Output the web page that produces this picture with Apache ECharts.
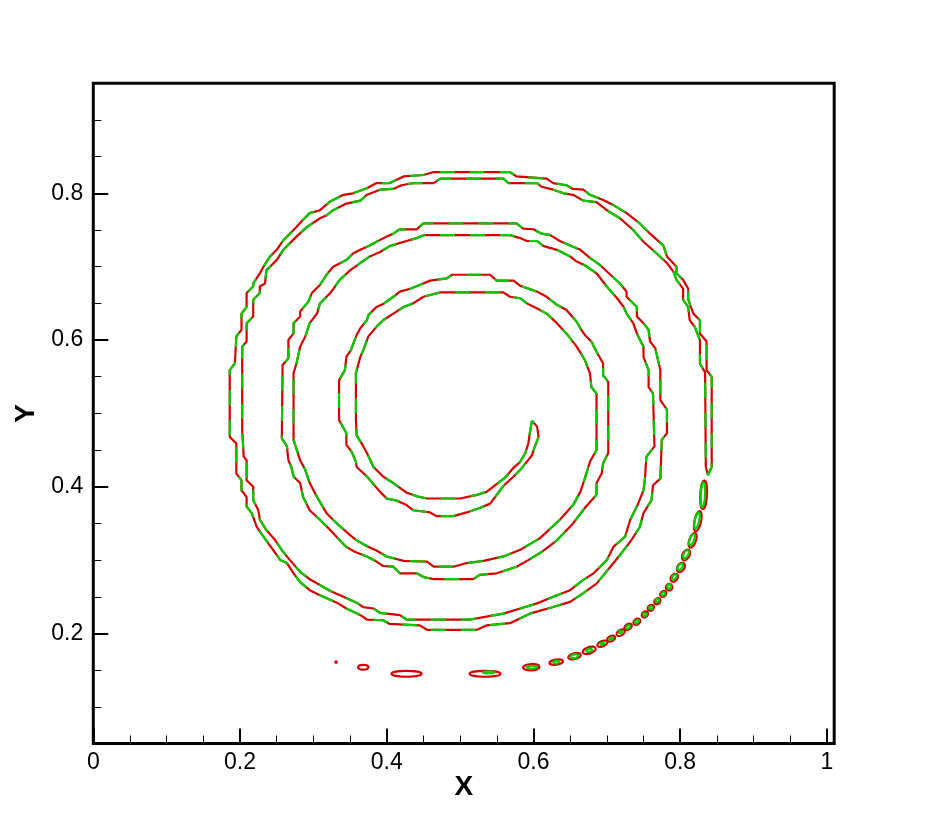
<!DOCTYPE html>
<html><head><meta charset="utf-8">
<script src="https://cdn.jsdelivr.net/npm/echarts@6/dist/echarts.min.js"></script>
<style>html,body{margin:0;padding:0;background:#fff}#c{width:929px;height:826px}</style>
</head><body><div id="c"></div>
<script>
const xTickValues = [0, 0.2, 0.4, 0.6, 0.8, 1];
const xMinorTicks = [0.05,0.1,0.15,0.25,0.3,0.35,0.45,0.5,0.55,0.65,0.7,0.75,0.85,0.9,0.95];
const yTickValues = [0.2, 0.4, 0.6, 0.8];
const yMinorTicks = [0.1,0.15,0.25,0.3,0.35,0.45,0.5,0.55,0.65,0.7,0.75,0.85,0.9];

// inner side of the spiral filament, from the inner tip to the outer tail
const innerEdge = [[0.598,0.490],[0.595,0.473],[0.593,0.459],[0.589,0.446],[0.582,0.434],[0.572,0.425],[0.561,0.412],[0.536,0.393],[0.523,0.389],[0.500,0.384],[0.455,0.384],[0.441,0.387],[0.427,0.392],[0.409,0.405],[0.395,0.414],[0.382,0.427],[0.373,0.446],[0.367,0.457],[0.359,0.470],[0.358,0.491],[0.358,0.555],[0.364,0.577],[0.368,0.586],[0.375,0.605],[0.386,0.618],[0.395,0.627],[0.409,0.636],[0.423,0.645],[0.436,0.650],[0.450,0.659],[0.473,0.665],[0.559,0.665],[0.568,0.659],[0.582,0.657],[0.591,0.650],[0.605,0.643],[0.618,0.636],[0.632,0.623],[0.645,0.609],[0.659,0.591],[0.670,0.573],[0.677,0.555],[0.679,0.536],[0.686,0.527],[0.686,0.450],[0.677,0.434],[0.670,0.411],[0.664,0.393],[0.654,0.375],[0.636,0.355],[0.609,0.330],[0.582,0.314],[0.559,0.305],[0.532,0.299],[0.509,0.296],[0.491,0.291],[0.464,0.291],[0.455,0.298],[0.423,0.299],[0.400,0.305],[0.386,0.313],[0.373,0.319],[0.359,0.327],[0.350,0.334],[0.332,0.350],[0.318,0.364],[0.305,0.386],[0.295,0.405],[0.289,0.423],[0.282,0.436],[0.273,0.464],[0.273,0.555],[0.277,0.568],[0.282,0.591],[0.289,0.605],[0.295,0.623],[0.305,0.636],[0.309,0.650],[0.323,0.664],[0.336,0.682],[0.350,0.695],[0.364,0.705],[0.377,0.714],[0.391,0.720],[0.404,0.728],[0.427,0.735],[0.441,0.739],[0.450,0.743],[0.568,0.743],[0.582,0.739],[0.591,0.735],[0.605,0.735],[0.614,0.728],[0.632,0.723],[0.650,0.714],[0.659,0.707],[0.670,0.702],[0.686,0.691],[0.700,0.673],[0.714,0.657],[0.723,0.645],[0.727,0.636],[0.736,0.623],[0.741,0.609],[0.750,0.591],[0.750,0.577],[0.757,0.559],[0.757,0.536],[0.763,0.527],[0.765,0.455],[0.754,0.441],[0.752,0.411],[0.750,0.395],[0.741,0.373],[0.732,0.355],[0.725,0.332],[0.709,0.318],[0.700,0.300],[0.682,0.282],[0.668,0.273],[0.650,0.259],[0.627,0.250],[0.605,0.241],[0.582,0.234],[0.559,0.227],[0.536,0.223],[0.514,0.219],[0.427,0.219],[0.418,0.225],[0.391,0.228],[0.382,0.234],[0.368,0.236],[0.359,0.242],[0.341,0.250],[0.323,0.258],[0.309,0.266],[0.295,0.274],[0.282,0.284],[0.268,0.300],[0.259,0.311],[0.248,0.327],[0.236,0.341],[0.227,0.355],[0.225,0.368],[0.218,0.382],[0.218,0.400],[0.209,0.409],[0.209,0.436],[0.205,0.441],[0.203,0.477],[0.203,0.591],[0.209,0.598],[0.209,0.623],[0.218,0.632],[0.218,0.655],[0.227,0.664],[0.227,0.673],[0.234,0.677],[0.236,0.695],[0.250,0.709],[0.259,0.723],[0.277,0.741],[0.291,0.754],[0.309,0.766],[0.318,0.770],[0.327,0.777],[0.345,0.786],[0.364,0.790],[0.373,0.798],[0.391,0.805],[0.409,0.806],[0.420,0.811],[0.436,0.814],[0.464,0.814],[0.473,0.820],[0.559,0.820],[0.566,0.814],[0.605,0.814],[0.611,0.809],[0.627,0.805],[0.641,0.800],[0.654,0.798],[0.668,0.790],[0.686,0.788],[0.700,0.777],[0.718,0.766],[0.736,0.750],[0.750,0.734],[0.768,0.718],[0.782,0.705],[0.791,0.693],[0.795,0.682],[0.804,0.670],[0.804,0.655],[0.811,0.645],[0.813,0.627],[0.820,0.618],[0.827,0.600],[0.827,0.568],[0.834,0.556],[0.835,0.427],[0.838,0.416]];

// outer side of the filament, from the inner tip to the outer tail
const outerEdge = [[0.598,0.490],[0.605,0.482],[0.607,0.468],[0.602,0.455],[0.598,0.443],[0.591,0.434],[0.582,0.423],[0.573,0.414],[0.559,0.401],[0.541,0.377],[0.527,0.371],[0.509,0.365],[0.491,0.360],[0.468,0.360],[0.459,0.365],[0.436,0.368],[0.427,0.375],[0.414,0.381],[0.400,0.384],[0.391,0.393],[0.373,0.414],[0.359,0.427],[0.358,0.434],[0.352,0.448],[0.345,0.457],[0.345,0.473],[0.335,0.491],[0.335,0.545],[0.343,0.559],[0.345,0.577],[0.351,0.586],[0.359,0.607],[0.364,0.616],[0.373,0.627],[0.375,0.634],[0.386,0.645],[0.395,0.649],[0.409,0.659],[0.418,0.666],[0.432,0.670],[0.445,0.675],[0.459,0.681],[0.482,0.684],[0.489,0.689],[0.541,0.689],[0.550,0.681],[0.573,0.681],[0.582,0.674],[0.605,0.666],[0.618,0.659],[0.632,0.648],[0.645,0.641],[0.659,0.625],[0.664,0.616],[0.670,0.607],[0.679,0.598],[0.686,0.584],[0.695,0.568],[0.695,0.552],[0.702,0.543],[0.702,0.446],[0.695,0.432],[0.693,0.418],[0.686,0.405],[0.686,0.389],[0.670,0.371],[0.654,0.350],[0.632,0.327],[0.611,0.311],[0.593,0.300],[0.577,0.291],[0.550,0.282],[0.527,0.280],[0.518,0.274],[0.464,0.274],[0.450,0.277],[0.441,0.282],[0.418,0.282],[0.409,0.291],[0.395,0.292],[0.386,0.298],[0.373,0.305],[0.357,0.311],[0.345,0.318],[0.336,0.327],[0.323,0.341],[0.309,0.355],[0.295,0.368],[0.286,0.386],[0.282,0.405],[0.273,0.414],[0.270,0.427],[0.266,0.436],[0.264,0.455],[0.257,0.466],[0.258,0.566],[0.266,0.575],[0.266,0.600],[0.273,0.609],[0.273,0.623],[0.282,0.632],[0.282,0.639],[0.293,0.652],[0.298,0.664],[0.309,0.675],[0.318,0.689],[0.327,0.700],[0.345,0.709],[0.354,0.718],[0.364,0.723],[0.377,0.729],[0.386,0.734],[0.400,0.741],[0.409,0.745],[0.418,0.751],[0.441,0.751],[0.450,0.759],[0.577,0.759],[0.586,0.752],[0.600,0.751],[0.611,0.745],[0.623,0.743],[0.636,0.735],[0.650,0.729],[0.664,0.723],[0.677,0.712],[0.691,0.702],[0.705,0.689],[0.718,0.677],[0.727,0.666],[0.727,0.659],[0.741,0.645],[0.741,0.632],[0.750,0.623],[0.757,0.614],[0.759,0.598],[0.766,0.589],[0.773,0.559],[0.773,0.518],[0.782,0.505],[0.782,0.473],[0.775,0.464],[0.773,0.411],[0.763,0.402],[0.761,0.382],[0.750,0.364],[0.745,0.345],[0.732,0.325],[0.718,0.307],[0.705,0.291],[0.686,0.268],[0.668,0.255],[0.650,0.243],[0.627,0.236],[0.595,0.227],[0.568,0.214],[0.536,0.211],[0.523,0.205],[0.455,0.205],[0.445,0.211],[0.404,0.213],[0.395,0.218],[0.373,0.219],[0.364,0.225],[0.345,0.234],[0.332,0.242],[0.323,0.246],[0.309,0.252],[0.295,0.259],[0.282,0.270],[0.273,0.282],[0.264,0.296],[0.255,0.300],[0.245,0.314],[0.232,0.332],[0.223,0.345],[0.216,0.364],[0.209,0.373],[0.209,0.386],[0.202,0.395],[0.202,0.409],[0.195,0.418],[0.195,0.459],[0.186,0.468],[0.186,0.559],[0.193,0.568],[0.195,0.605],[0.202,0.614],[0.202,0.636],[0.209,0.645],[0.209,0.664],[0.218,0.673],[0.218,0.677],[0.227,0.691],[0.232,0.700],[0.241,0.714],[0.250,0.723],[0.259,0.736],[0.273,0.750],[0.286,0.764],[0.295,0.773],[0.309,0.777],[0.323,0.789],[0.341,0.798],[0.354,0.800],[0.373,0.807],[0.386,0.814],[0.404,0.814],[0.423,0.823],[0.450,0.825],[0.464,0.829],[0.568,0.829],[0.577,0.823],[0.618,0.820],[0.627,0.814],[0.645,0.811],[0.654,0.806],[0.668,0.805],[0.677,0.798],[0.695,0.791],[0.709,0.784],[0.727,0.773],[0.745,0.759],[0.759,0.745],[0.777,0.729],[0.782,0.714],[0.795,0.700],[0.795,0.691],[0.804,0.682],[0.811,0.670],[0.811,0.655],[0.818,0.636],[0.827,0.627],[0.827,0.609],[0.836,0.598],[0.836,0.559],[0.841,0.552],[0.843,0.550],[0.843,0.427],[0.838,0.416]];

// droplets of the broken-up tail: [x, y, semi-axis x, semi-axis y, tilt in degrees]
const redDrops = [[0.832,0.389,0.0045,0.0195,-3],[0.824,0.353,0.0045,0.014,-12],[0.817,0.327,0.0045,0.0105,-20],[0.808,0.307,0.0047,0.008,-28],[0.801,0.290,0.0047,0.007,-35],[0.792,0.276,0.0044,0.006,-40],[0.785,0.263,0.0045,0.0045,0],[0.777,0.254,0.0047,0.0037,45],[0.769,0.244,0.0047,0.0037,45],[0.760,0.235,0.0047,0.0037,42],[0.752,0.226,0.0047,0.0037,40],[0.741,0.216,0.0052,0.0037,38],[0.729,0.209,0.0057,0.0037,34],[0.719,0.201,0.0062,0.0037,30],[0.706,0.193,0.0057,0.0037,26],[0.694,0.186,0.0072,0.0037,22],[0.676,0.177,0.0092,0.0044,18],[0.656,0.169,0.0088,0.004,14],[0.631,0.161,0.0092,0.0035,8],[0.597,0.154,0.0112,0.0044,3],[0.534,0.145,0.021,0.004,0],[0.427,0.145,0.0205,0.004,0],[0.368,0.154,0.007,0.0032,0],[0.331,0.161,0.001,0.001,0]];
const greenDrops = [[0.831,0.389,0.003,0.017,-3],[0.823,0.354,0.003,0.011,-12],[0.816,0.328,0.003,0.008,-20],[0.808,0.308,0.003,0.006,-28],[0.800,0.291,0.0028,0.005,-35],[0.792,0.277,0.0025,0.004,-40],[0.785,0.264,0.0025,0.003,0],[0.777,0.254,0.0025,0.0025,0],[0.769,0.245,0.0025,0.0022,0],[0.760,0.235,0.0025,0.002,0],[0.752,0.226,0.0025,0.002,0],[0.741,0.216,0.003,0.002,30],[0.729,0.209,0.003,0.002,30],[0.719,0.202,0.0025,0.0015,25],[0.706,0.193,0.0025,0.0015,25],[0.694,0.186,0.003,0.0015,20],[0.676,0.177,0.004,0.002,15],[0.656,0.169,0.005,0.0025,10],[0.631,0.161,0.004,0.002,5],[0.598,0.154,0.007,0.002,0],[0.539,0.147,0.008,0.0015,0]];

const RED = '#d40000', GREEN = '#00cc00';
const FONT = "'Liberation Sans', Arial, sans-serif";
const contour = innerEdge.concat(outerEdge.slice().reverse().slice(1));

function dropSeries(data, color) {
  return {
    type: 'custom', coordinateSystem: 'cartesian2d', data: data, silent: true,
    encode: { x: 0, y: 1 },
    renderItem: function (params, api) {
      const c = api.coord([api.value(0), api.value(1)]);
      const s = api.size([api.value(2), api.value(3)]);
      return {
        type: 'ellipse', x: c[0], y: c[1], rotation: api.value(4) * Math.PI / 180,
        shape: { cx: 0, cy: 0, rx: Math.max(s[0], 0.5), ry: Math.max(s[1], 0.5) },
        style: { fill: 'none', stroke: color, lineWidth: 2.2 }
      };
    }
  };
}

const labelStyle = { color: '#000', fontSize: 23, fontFamily: FONT };
const nameStyle = { color: '#000', fontSize: 28, fontWeight: 'bold', fontFamily: FONT };

const chart = echarts.init(document.getElementById('c'), null, { renderer: 'canvas' });
chart.setOption({
  animation: false,
  backgroundColor: '#fff',
  grid: { left: 93.3, top: 83.3, right: 94.8, bottom: 82.5, show: true, borderColor: '#000', borderWidth: 3, backgroundColor: 'transparent', containLabel: false },
  xAxis: [
    { type: 'value', min: 0, max: 1.01, position: 'bottom',
      axisLine: { show: false }, splitLine: { show: false },
      axisTick: { inside: true, length: 15, lineStyle: { color: '#000', width: 2 }, customValues: xTickValues },
      axisLabel: Object.assign({ customValues: xTickValues, margin: 8 }, labelStyle),
      name: 'X', nameLocation: 'middle', nameGap: 30, nameMoveOverlap: false, nameTextStyle: nameStyle },
    { type: 'value', min: 0, max: 1.01, position: 'bottom',
      axisLine: { show: false }, splitLine: { show: false },
      axisTick: { inside: true, length: 8, lineStyle: { color: '#000', width: 1 }, customValues: xMinorTicks },
      axisLabel: { show: false } }
  ],
  yAxis: [
    { type: 'value', min: 0.05, max: 0.95, position: 'left',
      axisLine: { show: false }, splitLine: { show: false },
      axisTick: { inside: true, length: 15, lineStyle: { color: '#000', width: 2 }, customValues: yTickValues },
      axisLabel: Object.assign({ customValues: yTickValues, margin: 10 }, labelStyle),
      name: 'Y', nameLocation: 'middle', nameGap: 52, nameTextStyle: nameStyle },
    { type: 'value', min: 0.05, max: 0.95, position: 'left',
      axisLine: { show: false }, splitLine: { show: false },
      axisTick: { inside: true, length: 8, lineStyle: { color: '#000', width: 1 }, customValues: yMinorTicks },
      axisLabel: { show: false } }
  ],
  series: [
    { type: 'line', data: contour, showSymbol: false, symbol: 'none', silent: true,
      lineStyle: { color: RED, width: 2.2, cap: 'butt' } },
    { type: 'line', data: contour, showSymbol: false, symbol: 'none', silent: true,
      lineStyle: { color: GREEN, width: 2.2, type: [15, 15], cap: 'butt' } },
    dropSeries(redDrops, RED),
    dropSeries(greenDrops, GREEN)
  ]
});
</script>
</body></html>
